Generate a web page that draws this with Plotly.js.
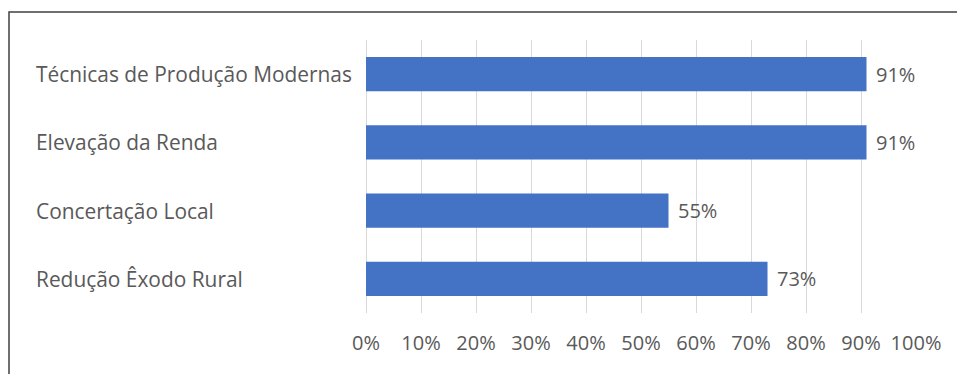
<!DOCTYPE html>
<html><head><meta charset="utf-8">
<script src="https://cdn.plot.ly/plotly-3.0.1.min.js"></script>
<style>html,body{margin:0;padding:0;background:#fff}#chart{width:957px;height:374px}</style>
</head><body><div id="chart"></div>
<script>
const categories = ["Técnicas de Produção Modernas", "Elevação da Renda", "Concertação Local", "Redução Êxodo Rural"];
const values = [0.91, 0.91, 0.55, 0.73];
const tickVals = [0,0.1,0.2,0.3,0.4,0.5,0.6,0.7,0.8,0.9,1.0];
const tickText = ["0%","10%","20%","30%","40%","50%","60%","70%","80%","90%","100%"];

const font = "Open Sans, sans-serif";
const grey = "#595959";
const FS = 20;
const W = 957, H = 374, L = 366, R = 41, T = 40, B = 61;
const pw = W - L - R, ph = H - T - B;
const px = x => (x - L) / pw;
const py = y => (H - B - y) / ph;

const trace = {
  type: "bar", orientation: "h",
  y: categories, x: values,
  marker: {color: "#4472C4"},
  hoverinfo: "none"
};

const catLabels = categories.map(c => ({
  xref: "paper", yref: "y", x: px(34), y: c, xanchor: "left", yanchor: "middle",
  text: c, showarrow: false, font: {family: font, size: 20.9, color: grey}
}));
const dataLabels = categories.map((c, i) => ({
  xref: "x", yref: "y", x: values[i], y: c, xanchor: "left", yanchor: "middle",
  xshift: 7, text: Math.round(values[i]*100) + "%", showarrow: false,
  font: {family: font, size: FS, color: grey}
}));

const layout = {
  width: W, height: H,
  margin: {l: L, r: R, t: T, b: B, pad: 0},
  paper_bgcolor: "#fff", plot_bgcolor: "#fff",
  showlegend: false,
  bargap: 0.5,
  xaxis: {
    range: [0, 1], tickvals: tickVals, ticktext: tickText,
    showgrid: true, gridcolor: "#D9D9D9", gridwidth: 1,
    zeroline: true, zerolinecolor: "#D9D9D9", zerolinewidth: 1, showline: false,
    ticks: "outside", ticklen: 0, ticklabelstandoff: 12,
    tickfont: {family: font, size: FS, color: grey},
    fixedrange: true
  },
  yaxis: {
    autorange: "reversed", showticklabels: false, showgrid: false,
    zeroline: false, showline: false, fixedrange: true
  },
  annotations: catLabels.concat(dataLabels),
  shapes: [{
    type: "rect", xref: "paper", yref: "paper",
    x0: px(9), x1: px(980), y0: py(12), y1: py(400),
    line: {color: "#404040", width: 1.5}, fillcolor: "rgba(0,0,0,0)", layer: "below"
  }]
};

Plotly.newPlot("chart", [trace], layout, {displayModeBar: false, staticPlot: true});
</script></body></html>
